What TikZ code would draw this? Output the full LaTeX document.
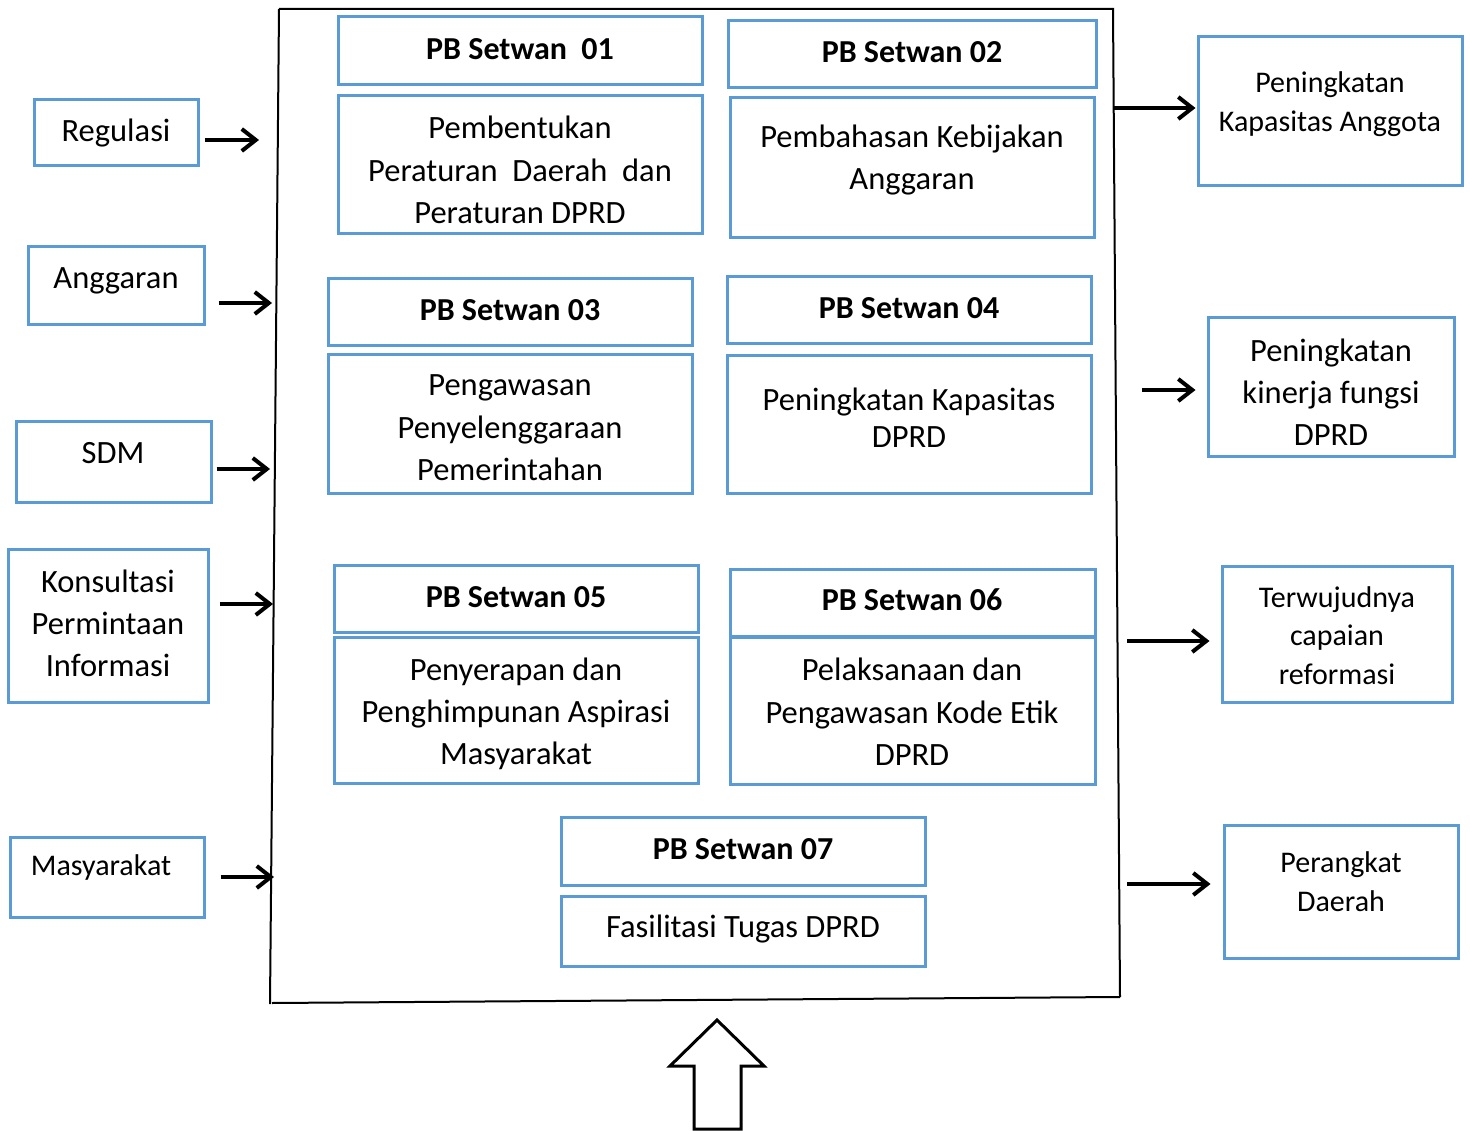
\documentclass[tikz,border=0pt]{standalone}
\usepackage{fontspec}
\setmainfont{Carlito}
\usetikzlibrary{arrows.meta}
\definecolor{boxblue}{RGB}{91,155,213}
\tikzset{
  bbox/.style={draw=boxblue,line width=3pt,rectangle,inner sep=0pt},
  txt/.style={inner sep=0pt,anchor=north,align=center,execute at begin node={\rule{0pt}{0.805em}}},
  fa/.style={font=\fontsize{32.5}{42.5}\selectfont},
  fb/.style={font=\fontsize{32.5}{42}\selectfont},
  fc/.style={font=\fontsize{30}{39}\selectfont},
  hd/.style={font=\fontsize{32}{42}\selectfont\bfseries},
  arr/.style={line width=4pt,-{Straight Barb[length=14pt,width=22pt]}},
  frame/.style={line width=2pt,black}
}
\begin{document}
\begin{tikzpicture}[x=1pt,y=-1pt]
\useasboundingbox (0,0) rectangle (1470,1131);
% frame
\coordinate (ftl) at (279,9);
\coordinate (ftr) at (1113,9);
\coordinate (fbr) at (1120,997);
\coordinate (fbl) at (270,1004);
\draw[frame] (ftl) -- (ftr) -- (fbr);
\draw[frame] (ftl) -- (fbl);
\draw[frame] (272,1003) -- (fbr);
% inner boxes
\node[bbox,minimum width=364,minimum height=68] (h1) at (520,51) {};
\node[txt,hd] (h1t) at (520,33.5) {PB Setwan \ 01};
\node[bbox,minimum width=364,minimum height=138] (b1) at (520,165) {};
\node[txt,fa] (b1t) at (520,115.8) {Pembentukan\\Peraturan\ \ Daerah\ \ dan\\Peraturan DPRD};
\node[bbox,minimum width=368,minimum height=67] (h2) at (912,54.5) {};
\node[txt,hd] (h2t) at (912,36.5) {PB Setwan 02};
\node[bbox,minimum width=364,minimum height=140] (b2) at (912,168) {};
\node[txt,fb] (b2t) at (912,124.8) {Pembahasan Kebijakan\\Anggaran};
\node[bbox,minimum width=364,minimum height=67] (h3) at (510,312.5) {};
\node[txt,hd] (h3t) at (510,294.5) {PB Setwan 03};
\node[bbox,minimum width=364,minimum height=138] (b3) at (510,424) {};
\node[txt,fa] (b3t) at (510,374.8) {Pengawasan\\Penyelenggaraan\\Pemerintahan};
\node[bbox,minimum width=364,minimum height=67] (h4) at (909,310.5) {};
\node[txt,hd] (h4t) at (909,292.5) {PB Setwan 04};
\node[bbox,minimum width=364,minimum height=137] (b4) at (909,424.5) {};
\node[txt,font=\fontsize{32.5}{37}\selectfont] (b4t) at (909,387.8) {Peningkatan Kapasitas\\DPRD};
\node[bbox,minimum width=364,minimum height=67] (h5) at (516,598.5) {};
\node[txt,hd] (h5t) at (516,581.5) {PB Setwan 05};
\node[bbox,minimum width=364,minimum height=146] (b5) at (516,710) {};
\node[txt,fb] (b5t) at (516,657.8) {Penyerapan dan\\Penghimpunan Aspirasi\\Masyarakat};
\node[bbox,minimum width=365,minimum height=67] (h6) at (912.5,602.5) {};
\node[txt,hd] (h6t) at (912,584.5) {PB Setwan 06};
\node[bbox,minimum width=365,minimum height=147] (b6) at (912.5,710.5) {};
\node[txt,fa] (b6t) at (912,657.8) {Pelaksanaan dan\\Pengawasan Kode Etik\\DPRD};
\node[bbox,minimum width=364,minimum height=68] (h7) at (743,851) {};
\node[txt,hd] (h7t) at (743,833.5) {PB Setwan 07};
\node[bbox,minimum width=364,minimum height=70] (b7) at (743,931) {};
\node[txt,fb] (b7t) at (743,911.3) {Fasilitasi Tugas DPRD};
% left boxes
\node[bbox,minimum width=164,minimum height=66] (reg) at (116,133) {};
\node[txt,fb] (regt) at (116,115.3) {Regulasi};
\node[bbox,minimum width=176,minimum height=78] (ang) at (116,286) {};
\node[txt,fb] (angt) at (116,262.3) {Anggaran};
\node[bbox,minimum width=195,minimum height=80] (sdm) at (113.5,462) {};
\node[txt,fb] (sdmt) at (113,437.3) {SDM};
\node[bbox,minimum width=200,minimum height=153] (kon) at (108,625.5) {};
\node[txt,fb] (kont) at (108,569.8) {Konsultasi\\Permintaan\\Informasi};
\node[bbox,minimum width=194,minimum height=80] (mas) at (107,877) {};
\node[txt,fc] (mast) at (101,851.5) {Masyarakat};
% right boxes
\node[bbox,minimum width=264,minimum height=149] (r1) at (1330,111.5) {};
\node[txt,fc] (r1t) at (1330,71) {Peningkatan\\Kapasitas Anggota};
\node[bbox,minimum width=246,minimum height=138] (r2) at (1331,387) {};
\node[txt,fb] (r2t) at (1331,338.8) {Peningkatan\\kinerja fungsi\\DPRD};
\node[bbox,minimum width=230,minimum height=136] (r3) at (1337,634) {};
\node[txt,font=\fontsize{30}{38.5}\selectfont] (r3t) at (1337,586) {Terwujudnya\\capaian\\reformasi};
\node[bbox,minimum width=234,minimum height=133] (r4) at (1341,891.5) {};
\node[txt,fc] (r4t) at (1341,851) {Perangkat\\Daerah};
% input arrows
\coordinate (a1) at (259,140);
\coordinate (a2) at (272,303);
\coordinate (a3) at (270,469);
\coordinate (a4) at (273,604);
\coordinate (a5) at (274,877);
\draw[arr] ([xshift=5pt]reg.east |- a1) -- (a1);
\draw[arr] ([xshift=13pt]ang.east |- a2) -- (a2);
\draw[arr] ([xshift=4pt]sdm.east |- a3) -- (a3);
\draw[arr] ([xshift=10pt]kon.east |- a4) -- (a4);
\draw[arr] ([xshift=15pt]mas.east |- a5) -- (a5);
% output arrows
\coordinate (o1) at (1113,108);
\coordinate (o2) at (1142,390);
\coordinate (o3) at (1127,641);
\coordinate (o4) at (1127,884);
\draw[arr] (o1) -- ([xshift=-1pt]r1.west |- o1);
\draw[arr] (o2) -- ([xshift=-11pt]r2.west |- o2);
\draw[arr] (o3) -- ([xshift=-11pt]r3.west |- o3);
\draw[arr] (o4) -- ([xshift=-12pt]r4.west |- o4);
% block arrow
\draw[line width=3pt,line join=miter] (717,1020) -- (764,1066) -- (741,1066) -- (741,1129) -- (694,1129) -- (694,1066) -- (670,1066) -- cycle;
\end{tikzpicture}
\end{document}
